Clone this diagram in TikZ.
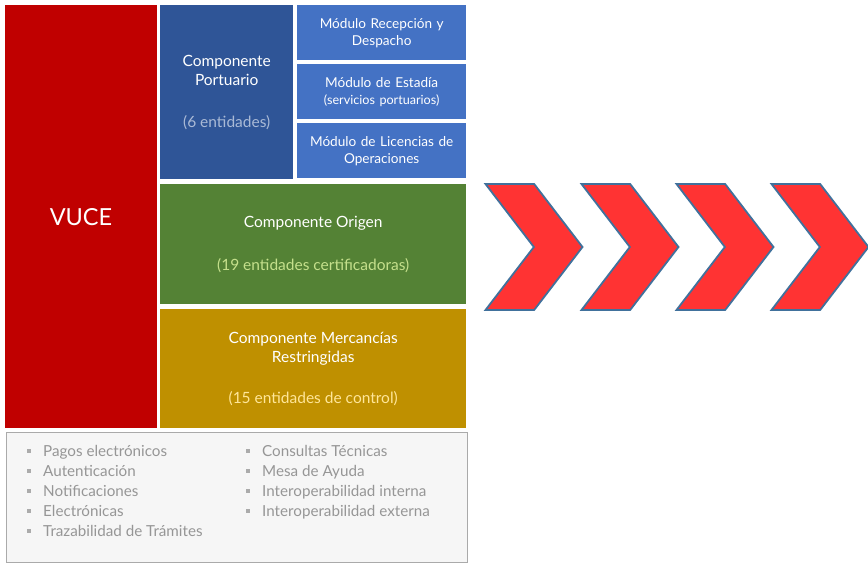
\documentclass[tikz,border=0pt]{standalone}
\usepackage{fontspec}
\setmainfont{Lato}
\usetikzlibrary{shapes.symbols, positioning}
\definecolor{colRed}{RGB}{192,0,0}
\definecolor{colNavy}{RGB}{47,85,151}
\definecolor{colBlue}{RGB}{68,114,196}
\definecolor{colGreen}{RGB}{84,130,53}
\definecolor{colGold}{RGB}{191,144,0}
\definecolor{colPaleBlue}{RGB}{170,186,214}
\definecolor{colPaleGreen}{RGB}{197,224,140}
\definecolor{colPaleGold}{RGB}{255,230,153}
\definecolor{colListBg}{RGB}{246,246,246}
\definecolor{colListBorder}{RGB}{170,170,170}
\definecolor{colListText}{RGB}{150,150,150}
\definecolor{colChevron}{RGB}{255,51,51}
\definecolor{colChevronBorder}{RGB}{65,113,156}
\tikzset{
    tile/.style={rectangle, anchor=north west, inner sep=2pt, align=center,
        text=white, font=\fontsize{15.5}{19}\selectfont},
    module/.style={tile, fill=colBlue, minimum width=169pt, minimum height=55pt,
        text width=165pt, font=\fontsize{13.6}{17}\selectfont},
    chevron/.style={signal, signal from=west, signal to=east, signal pointer angle=105,
        fill=colChevron, draw=colChevronBorder, line width=1.8pt,
        minimum width=97pt, minimum height=126pt, inner sep=0pt},
    item/.style={anchor=base west, inner sep=0pt, text=colListText, font=\fontsize{15.2}{17}\selectfont},
    bullet/.style={rectangle, fill=colListText!80, minimum size=4.5pt, inner sep=0pt}
}
\newcommand{\pale}[2]{\textcolor{#1}{#2}}

\begin{document}
\begin{tikzpicture}[x=1pt, y=-1pt]
    \useasboundingbox (0,0) rectangle (868,563);
    % main blocks
    \node[tile, fill=colRed, minimum width=152pt, minimum height=423pt] (vuce) at (5,5) {};
    \node[text=white, font=\fontsize{23.5}{26}\selectfont] (vucelbl) at (81,217) {VUCE};
    \node[tile, fill=colNavy, minimum width=133pt, minimum height=174pt] (portuario) at (160,5)
        {Componente\\Portuario\\[23pt]\pale{colPaleBlue}{(6 entidades)}};
    \node[module] (recepcion) at (297,5) {Módulo Recepción y\\Despacho};
    \node[module] (estadia) at (297,64) {Módulo de Estadía\\\fontsize{12.6}{15}\selectfont(servicios portuarios)};
    \node[module] (licencias) at (297,123) {Módulo de Licencias de\\Operaciones};
    \node[tile, fill=colGreen, minimum width=306pt, minimum height=120pt] (origen) at (160,184)
        {Componente Origen\\[24pt]\pale{colPaleGreen}{(19 entidades certificadoras)}};
    \node[tile, fill=colGold, minimum width=306pt, minimum height=119pt] (mercancias) at (160,309)
        {Componente Mercancías\\Restringidas\\[22pt]\pale{colPaleGold}{(15 entidades de control)}};
    % shared services
    \node[rectangle, anchor=north west, fill=colListBg, draw=colListBorder, line width=1pt,
        minimum width=461pt, minimum height=130pt] (servicios) at (6,432) {};
    \foreach \txt [count=\i] in {Pagos electrónicos, Autenticación, Notificaciones, Electrónicas,
        Trazabilidad de Trámites} {
        \node[bullet] (bl\i) at (29,431+20*\i) {};
        \node[item] (il\i) at (43,436+20*\i) {\txt};
    }
    \foreach \txt [count=\i] in {Consultas Técnicas, Mesa de Ayuda, Interoperabilidad interna,
        Interoperabilidad externa} {
        \node[bullet] (br\i) at (248,431+20*\i) {};
        \node[item] (ir\i) at (262,436+20*\i) {\txt};
    }
    % chevrons
    \foreach \x [count=\i] in {534,630,725,820} {
        \node[chevron] (chev\i) at (\x,247) {};
    }
\end{tikzpicture}
\end{document}
